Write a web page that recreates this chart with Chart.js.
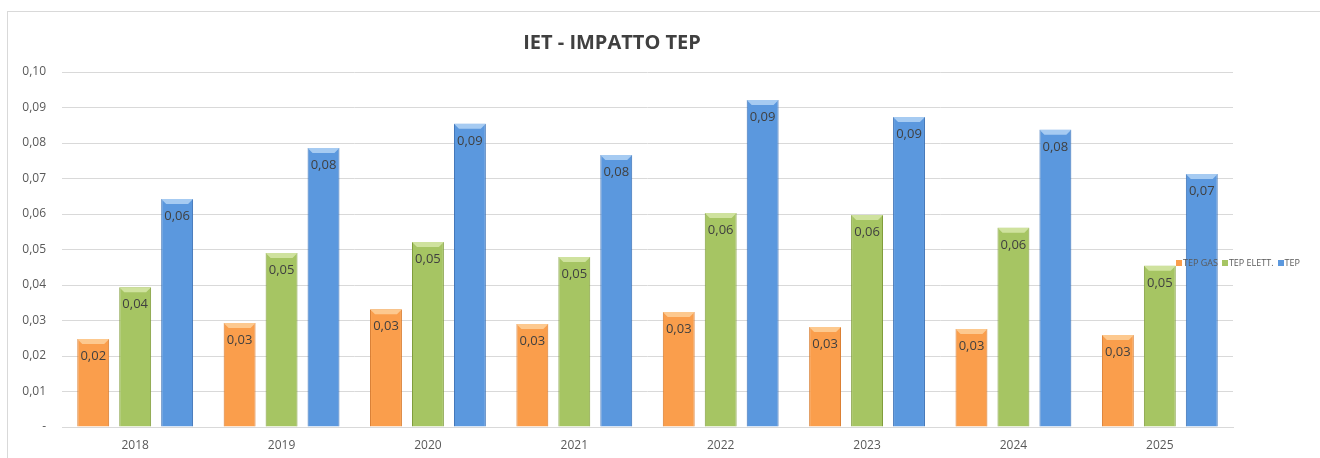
<!DOCTYPE html>
<html>
<head>
<meta charset="utf-8">
<script src="https://cdn.jsdelivr.net/npm/chart.js@4.4.1/dist/chart.umd.min.js"></script>
<style>
  body { margin: 0; background: #fff; overflow: hidden; }
  #frame { position: absolute; left: 7px; top: 11px; width: 1320px; height: 460px; border: 1px solid #d9d9d9; box-sizing: border-box; }
  #wrap { position: absolute; left: 0; top: 0; width: 1312px; height: 447px; }
  #legend { position: absolute; left: 1168px; top: 244px; font: 9px "Open Sans", sans-serif; color: #595959; white-space: nowrap; }
  #legend span.box { display: inline-block; width: 6px; height: 6px; margin-right: 1px; vertical-align: 0px; }
  #legend span.item { margin-right: 4px; }
</style>
</head>
<body>
<div id="frame">
  <div id="wrap"><canvas id="tep-canvas"></canvas></div>
  <div id="legend"></div>
</div>
<script>
// dati
const years = ['2018', '2019', '2020', '2021', '2022', '2023', '2024', '2025']
const tepGas = [0.0248, 0.0293, 0.0332, 0.0290, 0.0324, 0.0282, 0.0276, 0.0259]
const tepElett = [0.0394, 0.0490, 0.0521, 0.0479, 0.0603, 0.0597, 0.0561, 0.0454]
const tepTot = [0.0642, 0.0786, 0.0854, 0.0766, 0.0921, 0.0873, 0.0837, 0.0713]
const yTicks = [0, 0.01, 0.02, 0.03, 0.04, 0.05, 0.06, 0.07, 0.08, 0.09, 0.10]

const seriesNames = ['TEP GAS', 'TEP ELETT.', 'TEP']
const fills = [
  { mid: '#FA9E4C', edge: '#D8792A', top: '#FDC98F' },
  { mid: '#A6C563', edge: '#819D3C', top: '#CFE29E' },
  { mid: '#5B98DE', edge: '#3A70B5', top: '#A6CBF2' },
]

function fmt(v) {
  if (v === 0) return '-'
  return v.toFixed(2).replace('.', ',')
}

function barGradient(idx) {
  return function (c) {
    const el = c.element
    if (!el || el.x === undefined || !c.chart.chartArea) return fills[idx].mid
    const w = el.width || 32
    const g = c.chart.ctx.createLinearGradient(el.x - w / 2, 0, el.x + w / 2, 0)
    g.addColorStop(0, fills[idx].edge)
    g.addColorStop(0.12, fills[idx].mid)
    g.addColorStop(0.85, fills[idx].mid)
    g.addColorStop(1, fills[idx].edge)
    return g
  }
}

// bevel on bar top + value labels
const barExtras = {
  id: 'barExtras',
  afterDatasetsDraw(chart) {
    const ctx = chart.ctx
    ctx.save()
    chart.data.datasets.forEach((ds, i) => {
      chart.getDatasetMeta(i).data.forEach((bar, j) => {
        const l = bar.x - bar.width / 2, r = bar.x + bar.width / 2, t = bar.y
        ctx.fillStyle = fills[i].top
        ctx.beginPath()
        ctx.moveTo(l, t); ctx.lineTo(r, t); ctx.lineTo(r - 5, t + 5); ctx.lineTo(l + 5, t + 5)
        ctx.closePath(); ctx.fill()
        ctx.fillStyle = '#404040'
        ctx.font = '13px "Open Sans", sans-serif'
        ctx.textAlign = 'center'
        ctx.textBaseline = 'middle'
        ctx.fillText(fmt(ds.data[j]), bar.x, t + 17)
      })
    })
    ctx.restore()
  }
}

const titlePlugin = {
  id: 'customTitle',
  afterDraw(chart) {
    const ctx = chart.ctx
    ctx.save()
    ctx.fillStyle = '#404040'
    ctx.font = 'bold 20px "Open Sans", sans-serif'
    ctx.textAlign = 'center'
    ctx.textBaseline = 'middle'
    ctx.fillText('IET - IMPATTO TEP', 604, 31)
    ctx.restore()
  }
}

const legendBox = document.getElementById('legend')
seriesNames.forEach((n, i) => {
  legendBox.innerHTML += '<span class="item"><span class="box" style="background:' + fills[i].mid + '"></span>' + n + '</span>'
})

const ctx = document.getElementById('tep-canvas').getContext('2d')
const tepChart = new Chart(ctx, {
  type: 'bar',
  data: {
    labels: years,
    datasets: [tepGas, tepElett, tepTot].map((d, i) => ({
      label: seriesNames[i],
      data: d,
      backgroundColor: barGradient(i),
      borderColor: fills[i].edge,
      borderWidth: 1,
      borderSkipped: 'bottom',
      categoryPercentage: 0.86,
      barPercentage: 0.76,
    })),
  },
  options: {
    responsive: true,
    maintainAspectRatio: false,
    animation: false,
    layout: { padding: { top: 60, right: 87, left: 0, bottom: 0 } },
    scales: {
      x: {
        grid: { display: false, drawTicks: false },
        border: { color: '#d9d9d9' },
        ticks: { color: '#595959', font: { family: 'Open Sans', size: 12 }, padding: 11 },
        afterFit(scale) { scale.height = 32 },
      },
      y: {
        min: 0,
        max: 0.1,
        afterBuildTicks(scale) { scale.ticks = yTicks.map(v => ({ value: v })) },
        grid: { color: '#d9d9d9', drawTicks: false },
        border: { display: false },
        ticks: {
          color: '#595959',
          font: { family: 'Open Sans', size: 12 },
          padding: 16,
          callback: v => fmt(v),
        },
        afterFit(scale) { scale.width = 54 },
      },
    },
    plugins: {
      legend: { display: false },
      tooltip: { enabled: false },
    },
  },
  plugins: [barExtras, titlePlugin],
})
</script>
</body>
</html>
